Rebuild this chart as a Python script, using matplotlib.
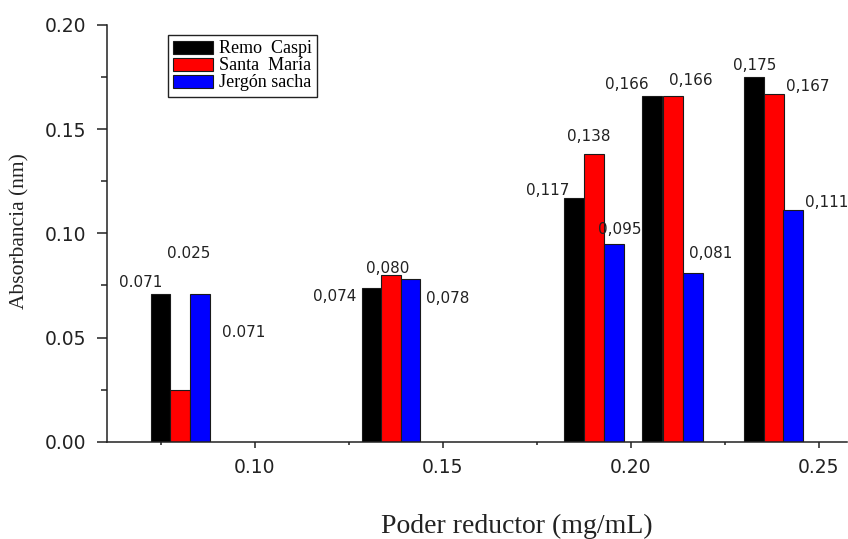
import matplotlib
matplotlib.use("Agg")
import matplotlib.pyplot as plt
from matplotlib.ticker import MultipleLocator, FormatStrFormatter

# series names and colours
series = ["Remo  Caspi", "Santa  María", "Jergón sacha"]
colors = ["#000000", "#ff0000", "#0000ff"]

# bar positions along x (mg/mL)
x_remo = [0.0749, 0.1311, 0.1848, 0.2057, 0.2327]
x_santa = [0.0801, 0.1363, 0.1901, 0.2111, 0.2380]
x_jergon = [0.0855, 0.1414, 0.1954, 0.2165, 0.2432]

# absorbance values
remo_caspi = [0.071, 0.074, 0.117, 0.166, 0.175]
santa_maria = [0.025, 0.080, 0.138, 0.166, 0.167]
jergon_sacha = [0.071, 0.078, 0.095, 0.081, 0.111]

# value labels as printed
labels_remo = ["0.071", "0,074", "0,117", "0,166", "0,175"]
labels_santa = ["0.025", "0,080", "0,138", "0,166", "0,167"]
labels_jergon = ["0.071", "0,078", "0,095", "0,081", "0,111"]

# label offsets from the bar top, in pixels
off_remo = [(-19.5, 11.7), (-37, -8.5), (-26, 7.9), (-25.5, 11.8), (1, 11.3)]
off_santa = [(8.7, 136.6), (-3.3, 6.7), (-4.8, 17.4), (18.2, 15.8), (34.2, 7)]
off_jergon = [(43.7, -38.3), (37.2, -18.9), (6.2, 14.7), (18, 19.9), (33.5, 8.4)]

bar_w = 0.0053
W, H = 848, 539

fig = plt.figure(figsize=(W / 100, H / 100), dpi=100)
ax = fig.add_axes([106.7 / W, 1 - 441.7 / H, 740 / W, (441.7 - 25) / H])

groups = [
    (x_remo, remo_caspi, labels_remo, off_remo),
    (x_santa, santa_maria, labels_santa, off_santa),
    (x_jergon, jergon_sacha, labels_jergon, off_jergon),
]
for (xs, ys, labs, offs), name, col in zip(groups, series, colors):
    ax.bar(xs, ys, width=bar_w, color=col, edgecolor="#1a1a1a",
           linewidth=0.8, label=name)
    for x, y, t, (dx, dy) in zip(xs, ys, labs, offs):
        ax.annotate(t, (x, y), xytext=(dx, dy), textcoords="offset pixels",
                    ha="center", va="center", fontsize=11, color="#222222")

ax.set_xlim(0.0606, 0.0606 + 740 / 3760)
ax.set_ylim(0, 0.20)

ax.xaxis.set_major_locator(MultipleLocator(0.05))
ax.xaxis.set_minor_locator(MultipleLocator(0.025))
ax.xaxis.set_major_formatter(FormatStrFormatter("%.2f"))
ax.yaxis.set_major_locator(MultipleLocator(0.05))
ax.yaxis.set_minor_locator(MultipleLocator(0.025))
ax.yaxis.set_major_formatter(FormatStrFormatter("%.2f"))

for s in ["top", "right"]:
    ax.spines[s].set_visible(False)
for s in ["left", "bottom"]:
    ax.spines[s].set_linewidth(1.1)
    ax.spines[s].set_color("#222222")

ax.tick_params(axis="x", which="major", direction="out", length=4.5, width=1.1,
               pad=7, labelsize=13.5, colors="#222222")
ax.tick_params(axis="x", which="minor", direction="out", length=2.5, width=1.1)
ax.tick_params(axis="y", which="major", direction="out", length=7, width=1.1,
               pad=8, labelsize=13.5, colors="#222222")
ax.tick_params(axis="y", which="minor", direction="out", length=4.3, width=1.1)
ax.tick_params(which="minor", colors="#222222")

leg = ax.legend(loc="upper left", bbox_to_anchor=(168 / W, 1 - 35 / H),
                bbox_transform=fig.transFigure, borderaxespad=0,
                prop={"family": "Liberation Serif", "size": 13},
                handlelength=2.2, handleheight=0.75, handletextpad=0.3,
                labelspacing=0.0, borderpad=0.3, fancybox=False,
                framealpha=1, edgecolor="#222222")
leg.get_frame().set_linewidth(1.0)

fig.text(20 / W, 1 - 231.5 / H, "Absorbancia (nm)", rotation=90,
         ha="center", va="center", family="Liberation Serif", fontsize=15.5,
         color="#222222")
fig.text(517 / W, 1 - 526 / H, "Poder reductor (mg/mL)", ha="center",
         va="center", family="Liberation Serif", fontsize=20, color="#222222")

fig.savefig("out.png", dpi=100)
